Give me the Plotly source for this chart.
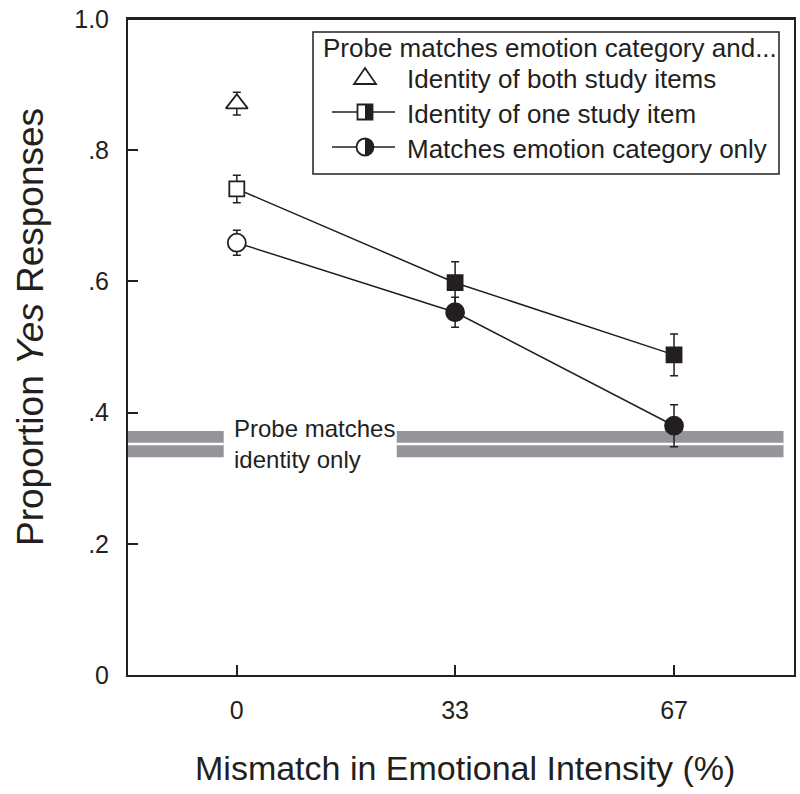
import plotly.graph_objects as go

# x positions (% mismatch) and their labels
intensity = [0, 33.3, 66.7]
tick_labels = ["0", "33", "67"]

# probe matches identity of both study items (only at 0%)
both_x = [0]
both_y = [0.871]
both_err = [0.0175]

# probe matches identity of one study item
one_y = [0.741, 0.598, 0.488]
one_err = [0.021, 0.032, 0.032]

# probe matches emotion category only
cat_y = [0.659, 0.553, 0.380]
cat_err = [0.019, 0.023, 0.032]

# probe matches identity only (band: mean +/- se)
ident_mean = 0.352
ident_se = 0.020

y_ticks = [0, 0.2, 0.4, 0.6, 0.8, 1.0]
y_labels = ["0", ".2", ".4", ".6", ".8", "1.0"]

FONT = "Arial, Liberation Sans, sans-serif"
INK = "#231f20"

# plot area in pixels (for the hand-drawn legend)
L, R, T, B = 128, 794, 19, 675


def px(x):
    return (x - L) / (R - L)


def py(y):
    return (B - y) / (B - T)


fig = go.Figure()

ebar = dict(type="data", thickness=1.5, width=4, color=INK)

fig.add_trace(go.Scatter(
    x=intensity, y=one_y, mode="lines+markers",
    error_y=dict(array=one_err, **ebar),
    line=dict(color=INK, width=1.5),
    marker=dict(symbol="square", size=15, color=["white", INK, INK],
                line=dict(color=INK, width=1.8)),
    showlegend=False))

fig.add_trace(go.Scatter(
    x=intensity, y=cat_y, mode="lines+markers",
    error_y=dict(array=cat_err, **ebar),
    line=dict(color=INK, width=1.5),
    marker=dict(symbol="circle", size=18, color=["white", INK, INK],
                line=dict(color=INK, width=1.8)),
    showlegend=False))

fig.add_trace(go.Scatter(
    x=both_x, y=both_y, mode="markers",
    error_y=dict(array=both_err, **ebar),
    marker=dict(symbol="triangle-up", size=19, color="white",
                line=dict(color=INK, width=1.8)),
    showlegend=False))

# grey band for "identity only", broken where the label sits
band_gray = "#939598"
for x0, x1 in [(-16.7, -2.0), (24.4, 83.4)]:
    fig.add_shape(type="rect", xref="x", yref="y", x0=x0, x1=x1,
                  y0=ident_mean - ident_se, y1=ident_mean + ident_se,
                  fillcolor=band_gray, line_width=0, layer="below")
    fig.add_shape(type="line", xref="x", yref="y", x0=x0, x1=x1,
                  y0=ident_mean, y1=ident_mean,
                  line=dict(color="white", width=2.5), layer="below")

fig.add_annotation(x=-0.8, y=ident_mean, xref="x", yref="y",
                   text="Probe matches<br>identity only", showarrow=False,
                   xanchor="left", yanchor="middle", align="left",
                   font=dict(size=24, color=INK, family=FONT))

# top frame line (explicit, on top of the mirrored axis line)
fig.add_shape(type="line", xref="paper", yref="paper", x0=0, x1=1, y0=1, y1=1,
              line=dict(color=INK, width=2))

# legend box drawn by hand (half-filled symbols are not native)
fig.add_shape(type="rect", xref="paper", yref="paper",
              x0=px(313), x1=px(779), y0=py(174), y1=py(32),
              line=dict(color=INK, width=1.5), fillcolor="white")

fig.add_annotation(x=px(321), y=py(48), xref="paper", yref="paper",
                   text="Probe matches emotion category and...",
                   showarrow=False, xanchor="left", yanchor="middle",
                   font=dict(size=26, color=INK, family=FONT))
rows = [(79, "Identity of both study items"),
        (114, "Identity of one study item"),
        (149, "Matches emotion category only")]
for yy, txt in rows:
    fig.add_annotation(x=px(405), y=py(yy), xref="paper", yref="paper",
                       text=txt, showarrow=False, xanchor="left",
                       yanchor="middle",
                       font=dict(size=26, color=INK, family=FONT))

gx = px(365)
# triangle
fig.add_shape(type="path", xref="paper", yref="paper",
              xsizemode="pixel", ysizemode="pixel",
              xanchor=gx, yanchor=py(77),
              path="M -11 -7 L 11 -7 L 0 9 Z",
              line=dict(color=INK, width=1.8), fillcolor="white")
# lines for rows 3 and 4
for yy in (112, 147):
    fig.add_shape(type="line", xref="paper", yref="paper",
                  x0=px(332), x1=px(395), y0=py(yy), y1=py(yy),
                  line=dict(color=INK, width=1.5))
# half-filled square
s = 7.5
fig.add_shape(type="path", xref="paper", yref="paper",
              xsizemode="pixel", ysizemode="pixel", xanchor=gx, yanchor=py(112),
              path=f"M {-s} {-s} L 0 {-s} L 0 {s} L {-s} {s} Z",
              line_width=0, fillcolor="white")
fig.add_shape(type="path", xref="paper", yref="paper",
              xsizemode="pixel", ysizemode="pixel", xanchor=gx, yanchor=py(112),
              path=f"M 0 {-s} L {s} {-s} L {s} {s} L 0 {s} Z",
              line_width=0, fillcolor=INK)
fig.add_shape(type="path", xref="paper", yref="paper",
              xsizemode="pixel", ysizemode="pixel", xanchor=gx, yanchor=py(112),
              path=f"M {-s} {-s} L {s} {-s} L {s} {s} L {-s} {s} Z",
              line=dict(color=INK, width=1.8))
# half-filled circle
r = 8.5
k = 0.5523 * r
fig.add_shape(type="circle", xref="paper", yref="paper",
              xsizemode="pixel", ysizemode="pixel", xanchor=gx, yanchor=py(147),
              x0=-r, x1=r, y0=-r, y1=r,
              line_width=0, fillcolor="white")
fig.add_shape(type="path", xref="paper", yref="paper",
              xsizemode="pixel", ysizemode="pixel", xanchor=gx, yanchor=py(147),
              path=f"M 0 {-r} C {k} {-r} {r} {-k} {r} 0 C {r} {k} {k} {r} 0 {r} Z",
              line_width=0, fillcolor=INK)
fig.add_shape(type="circle", xref="paper", yref="paper",
              xsizemode="pixel", ysizemode="pixel", xanchor=gx, yanchor=py(147),
              x0=-r, x1=r, y0=-r, y1=r,
              line=dict(color=INK, width=1.8))

# axis titles
fig.add_annotation(x=px(465), y=py(768), xref="paper", yref="paper",
                   text="Mismatch in Emotional Intensity (%)", showarrow=False,
                   xanchor="center", yanchor="middle",
                   font=dict(size=34, color=INK, family=FONT))
fig.add_annotation(x=px(30), y=py(327), xref="paper", yref="paper",
                   text="Proportion <i>Yes</i> Responses", showarrow=False,
                   textangle=-90, xanchor="center", yanchor="middle",
                   font=dict(size=37, color=INK, family=FONT))

fig.update_xaxes(range=[-16.6, 85.0], tickvals=intensity, ticktext=tick_labels,
                 ticks="inside", ticklen=10, tickwidth=1.5, tickcolor=INK,
                 showline=True, linecolor=INK, linewidth=2, mirror=True,
                 showgrid=False, zeroline=False, ticklabelstandoff=12,
                 ticklabeloverflow="allow", automargin=False,
                 tickfont=dict(size=25, color=INK, family=FONT))
fig.update_yaxes(range=[0, 1], tickvals=y_ticks, ticktext=y_labels,
                 ticks="inside", ticklen=10, tickwidth=1.5, tickcolor=INK,
                 showline=True, linecolor=INK, linewidth=2, mirror=True,
                 showgrid=False, zeroline=False, ticklabelstandoff=12,
                 ticklabeloverflow="allow", automargin=False,
                 tickfont=dict(size=25, color=INK, family=FONT))

fig.update_layout(width=800, height=794,
                  margin=dict(l=L, r=800 - R, t=T, b=794 - B),
                  paper_bgcolor="white", plot_bgcolor="white",
                  font=dict(family=FONT, color=INK))

# drop the browser's default page margin so the figure sits at (0, 0)
fig.write_html("out.html", config={"displayModeBar": False},
               post_script="document.body.style.margin='0';")
